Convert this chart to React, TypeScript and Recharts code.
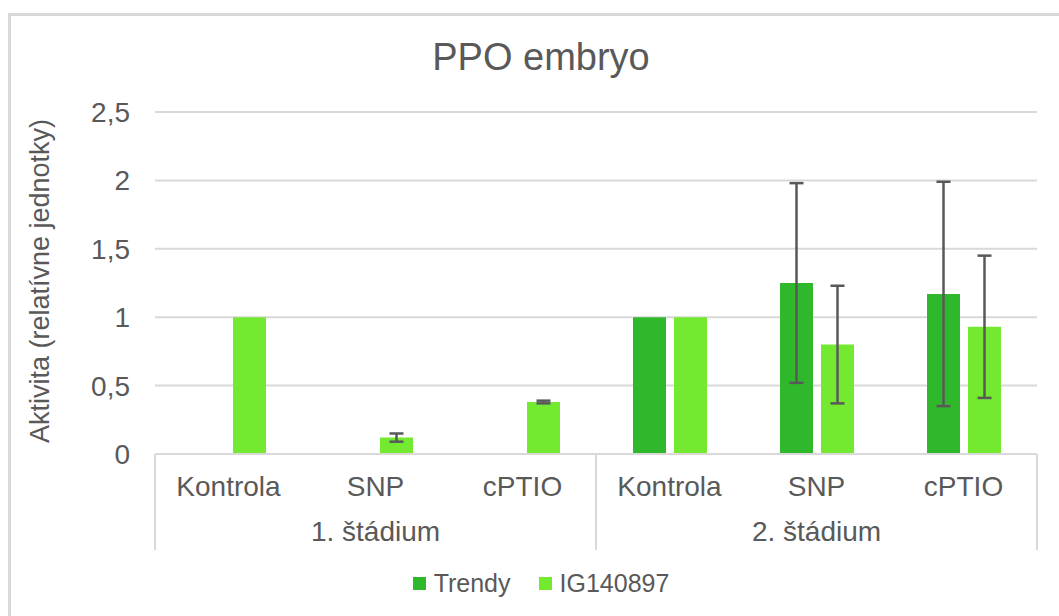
import { BarChart, Bar, XAxis, YAxis, CartesianGrid, ErrorBar } from "recharts";

const categories = ["Kontrola", "SNP", "cPTIO", "Kontrola", "SNP", "cPTIO"];
const stages = ["1. štádium", "1. štádium", "1. štádium", "2. štádium", "2. štádium", "2. štádium"];
const trendy = [null, null, null, 1, 1.25, 1.17];
const trendyErr = [null, null, null, null, 0.73, 0.82];
const ig = [1, 0.12, 0.38, 1, 0.8, 0.93];
const igErr = [null, 0.03, 0.01, null, 0.43, 0.52];
const yTicks = [0, 0.5, 1, 1.5, 2, 2.5];

const data = categories.map((cat, i) => ({
  cat,
  stage: stages[i],
  trendy: trendy[i],
  trendyErr: trendyErr[i],
  ig: ig[i],
  igErr: igErr[i],
}));

const W = 1060;
const H = 600;
const MARGIN = { top: 96, right: 34, bottom: 66, left: 0 };
const Y_W = 144;
const X1_H = 44;
const X2_H = 52;
const PLOT_BOTTOM = H - MARGIN.bottom - X1_H - X2_H;
const BAND = (W - MARGIN.left - MARGIN.right - Y_W) / data.length;

const FONT = "'Liberation Sans', Arial, sans-serif";
const TEXT = "#595959";
const GRID = "#d9d9d9";
const C_TRENDY = "#30b82c";
const C_IG = "#73ea30";

const CatTick = (props: any) => {
  const { x, payload } = props;
  return (
    <text x={x} y={PLOT_BOTTOM + 42} textAnchor="middle" fill={TEXT} fontSize={28} fontFamily={FONT}>
      {payload.value}
    </text>
  );
};

const StageTick = (props: any) => {
  const { x, payload, index } = props;
  const y2 = PLOT_BOTTOM + X1_H + X2_H;
  return (
    <g>
      {index % 3 === 0 && (
        <line x1={x - BAND / 2} x2={x - BAND / 2} y1={PLOT_BOTTOM} y2={y2} stroke={GRID} strokeWidth={2} />
      )}
      {index === data.length - 1 && (
        <line x1={x + BAND / 2} x2={x + BAND / 2} y1={PLOT_BOTTOM} y2={y2} stroke={GRID} strokeWidth={2} />
      )}
      {index % 3 === 1 && (
        <text x={x} y={PLOT_BOTTOM + 87} textAnchor="middle" fill={TEXT} fontSize={28} fontFamily={FONT}>
          {payload.value}
        </text>
      )}
    </g>
  );
};

export default function App() {
  return (
    <div style={{ position: "fixed", inset: 0, overflow: "hidden", background: "#fff" }}>
      <div
        style={{
          position: "absolute",
          left: 8,
          top: 13,
          width: W,
          height: H,
          border: `3px solid ${GRID}`,
          fontFamily: FONT,
        }}
      >
        <div
          style={{
            position: "absolute",
            left: 0,
            width: W,
            top: 22,
            textAlign: "center",
            fontSize: 38,
            lineHeight: "38px",
            color: TEXT,
          }}
        >
          PPO embryo
        </div>
        <BarChart width={W} height={H} data={data} margin={MARGIN} barSize={33} barGap={8}>
          <CartesianGrid vertical={false} stroke={GRID} strokeWidth={2} />
          <XAxis
            dataKey="cat"
            height={X1_H}
            tickLine={false}
            axisLine={{ stroke: GRID, strokeWidth: 2 }}
            tick={<CatTick />}
            interval={0}
          />
          <XAxis
            xAxisId="stage"
            dataKey="stage"
            height={X2_H}
            tickLine={false}
            axisLine={false}
            tick={<StageTick />}
            interval={0}
          />
          <YAxis
            width={Y_W}
            domain={[0, 2.5]}
            ticks={yTicks}
            axisLine={false}
            tickLine={false}
            tickMargin={19}
            tick={{ fill: TEXT, fontSize: 28, fontFamily: FONT }}
            tickFormatter={(v: number) => String(v).replace(".", ",")}
            label={{
              content: () => (
                <text
                  x={31}
                  y={265}
                  transform="rotate(-90 31 265)"
                  textAnchor="middle"
                  dominantBaseline="middle"
                  fill={TEXT}
                  fontSize={27}
                  fontFamily={FONT}
                >
                  Aktivita (relatívne jednotky)
                </text>
              ),
            }}
          />
          <Bar dataKey="trendy" fill={C_TRENDY} isAnimationActive={false}>
            <ErrorBar dataKey="trendyErr" stroke={TEXT} strokeWidth={2.5} width={7} />
          </Bar>
          <Bar dataKey="ig" fill={C_IG} isAnimationActive={false}>
            <ErrorBar dataKey="igErr" stroke={TEXT} strokeWidth={2.5} width={7} />
          </Bar>
        </BarChart>
        <div
          style={{
            position: "absolute",
            left: 0,
            width: W,
            top: 553,
            display: "flex",
            justifyContent: "center",
            alignItems: "center",
            fontSize: 25,
            color: TEXT,
          }}
        >
          <div style={{ display: "flex", alignItems: "center", marginRight: 28 }}>
            <span style={{ width: 13, height: 13, background: C_TRENDY, marginRight: 8 }} />
            Trendy
          </div>
          <div style={{ display: "flex", alignItems: "center" }}>
            <span style={{ width: 13, height: 13, background: C_IG, marginRight: 8 }} />
            IG140897
          </div>
        </div>
      </div>
    </div>
  );
}
